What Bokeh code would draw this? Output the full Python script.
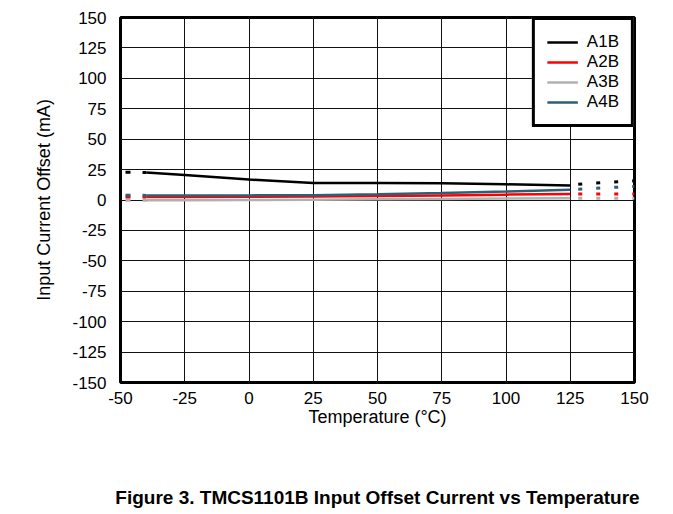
from bokeh.plotting import figure
from bokeh.models import Legend, LegendItem, LinearAxis, FixedTicker
from bokeh.embed import file_html
from bokeh.resources import INLINE

# Measured temperatures (°C)
temps = [-40, -25, 0, 25, 50, 75, 100, 125]
a1b = [22.6, 20.5, 16.8, 14.0, 13.9, 13.8, 12.9, 11.9]
a2b = [2.5, 2.5, 2.6, 2.8, 3.2, 3.8, 4.4, 5.0]
a3b = [-0.3, -0.2, 0.0, 0.3, 0.6, 0.9, 1.2, 1.5]
a4b = [3.8, 3.8, 3.8, 4.0, 4.8, 5.8, 7.0, 8.4]

# Extrapolated (dashed) ends
left_t = [-50, -40]
a1b_left = [22.8, 22.6]
a2b_left = [2.5, 2.5]
a3b_left = [-0.3, -0.3]
a4b_left = [4.0, 3.8]

right_t = [125, 150]
a1b_right = [12.6, 15.8]
a2b_right = [5.0, 5.0]
a3b_right = [1.5, 1.5]
a4b_right = [8.6, 11.2]

x_ticks = [-50, -25, 0, 25, 50, 75, 100, 125, 150]
y_ticks = [-150, -125, -100, -75, -50, -25, 0, 25, 50, 75, 100, 125, 150]

names = ["A1B", "A2B", "A3B", "A4B"]
colors = ["#000000", "#ff0000", "#b0b0b0", "#2f5f78"]

FONT = "Liberation Sans"

p = figure(width=665, height=514, x_range=(-50, 150), y_range=(-150, 150),
           output_backend="svg", toolbar_location=None,
           min_border_left=120, min_border_right=31, min_border_top=17, min_border_bottom=132)

p.outline_line_color = "black"
p.outline_line_width = 3

p.xaxis.ticker = FixedTicker(ticks=x_ticks)
p.yaxis.ticker = FixedTicker(ticks=y_ticks)
p.xaxis.major_label_overrides = {t: str(t) for t in x_ticks}
p.yaxis.major_label_overrides = {t: str(t) for t in y_ticks}
for ax in (p.xaxis[0], p.yaxis[0]):
    ax.axis_line_color = None
    ax.major_tick_line_color = None
    ax.minor_tick_line_color = None
    ax.major_label_text_font = FONT
    ax.major_label_text_font_size = "17px"
    ax.major_label_text_color = "black"
    ax.axis_label_text_font = FONT
    ax.axis_label_text_font_size = "18px"
    ax.axis_label_text_font_style = "normal"
    ax.axis_label_text_color = "black"

p.xaxis.axis_label = "Temperature (°C)"
p.yaxis.axis_label = "Input Current Offset (mA)"
p.xaxis.major_label_standoff = 3
p.yaxis.major_label_standoff = 8
p.xaxis.axis_label_standoff = 0
p.yaxis.axis_label_standoff = 15

p.xgrid.grid_line_color = "#111111"
p.ygrid.grid_line_color = "#111111"
p.xgrid.grid_line_width = 1
p.ygrid.grid_line_width = 1

series = [(a1b, a1b_left, a1b_right), (a2b, a2b_left, a2b_right),
          (a3b, a3b_left, a3b_right), (a4b, a4b_left, a4b_right)]

order = [2, 1, 0, 3]
renderers = {}
for i in order:
    vals, lv, rv = series[i]
    c = colors[i]
    r = p.line(temps, vals, line_color=c, line_width=2.5)
    p.line(left_t, lv, line_color=c, line_width=3, line_dash="5 12", line_dash_offset=12)
    p.line(right_t, rv, line_color=c, line_width=3, line_dash="4 14", line_dash_offset=10)
    renderers[i] = r

legend = Legend(items=[LegendItem(label=names[i], renderers=[renderers[i]]) for i in range(4)],
                location="top_right")
legend.border_line_color = "black"
legend.border_line_alpha = 1.0
legend.border_line_width = 3
legend.label_text_font = FONT
legend.label_text_font_size = "17px"
legend.label_text_color = "black"
legend.glyph_width = 31
legend.glyph_height = 20
legend.label_height = 20
legend.label_standoff = 9
legend.spacing = 0
legend.padding = 12
legend.margin = 0
legend.background_fill_color = "white"
legend.background_fill_alpha = 1
p.add_layout(legend)

# Figure caption: carried by an extra, tickless axis below the x axis
cap = LinearAxis(ticker=FixedTicker(ticks=[]),
                 axis_label="Figure 3. TMCS1101B Input Offset Current vs Temperature")
cap.axis_line_color = None
cap.major_tick_line_color = None
cap.minor_tick_line_color = None
cap.major_label_text_font_size = "0px"
cap.major_label_standoff = 0
cap.axis_label_standoff = 57
cap.axis_label_text_font = FONT
cap.axis_label_text_font_size = "19px"
cap.axis_label_text_font_style = "bold"
cap.axis_label_text_color = "black"
p.add_layout(cap, "below")

open("out.html", "w").write(file_html(p, INLINE))
